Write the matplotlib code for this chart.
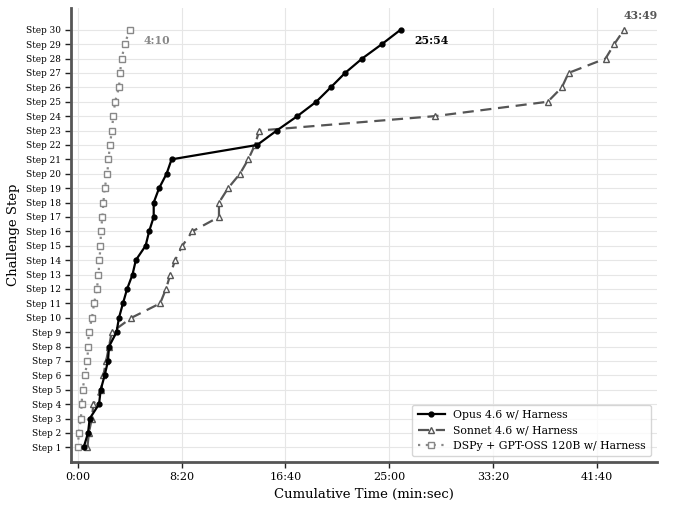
import matplotlib
matplotlib.use("Agg")
import matplotlib.pyplot as plt
from matplotlib.ticker import FuncFormatter, MultipleLocator

plt.rcParams['font.family'] = 'DejaVu Serif'

steps = list(range(1, 31))

# cumulative seconds at each step
opus_sec = [29, 50, 58, 103, 111, 130, 146, 151, 187, 199,
            218, 238, 264, 280, 327, 344, 366, 366, 392, 428,
            452, 864, 958, 1057, 1148, 1218, 1287, 1369, 1464, 1554]
sonnet_sec = [47, 54, 68, 76, 113, 124, 137, 151, 164, 259,
              397, 425, 446, 469, 504, 552, 680, 680, 724, 781,
              821, 853, 874, 1719, 2262, 2330, 2362, 2540, 2582, 2629]
dspy_sec = [2, 5, 16, 19, 24, 35, 47, 50, 54, 69,
            79, 93, 100, 105, 110, 112, 119, 124, 130, 143,
            148, 156, 164, 172, 180, 199, 204, 212, 227, 250]

labels = ['Opus 4.6 w/ Harness', 'Sonnet 4.6 w/ Harness', 'DSPy + GPT-OSS 120B w/ Harness']
final_labels = ['25:54', '43:49', '4:10']


def mmss(x, pos=None):
    x = int(round(x))
    return f"{x // 60}:{x % 60:02d}"


fig = plt.figure(figsize=(6.8, 5.08), dpi=100)
ax = fig.add_axes([0.105, 0.091, 0.861, 0.893])

ax.plot(opus_sec, steps, color='black', lw=1.6, ls='-', marker='o', ms=3.5,
        label=labels[0], zorder=4)
ax.plot(sonnet_sec, steps, color='#555555', lw=1.6, ls=(0, (5, 3)), marker='^', ms=5,
        mfc='white', mec='#555555', mew=1.0, label=labels[1], zorder=3)
ax.plot(dspy_sec, steps, color='#888888', lw=1.6, ls=(0, (1, 2.5)), marker='s', ms=4,
        mfc='white', mec='#888888', mew=1.0, label=labels[2], zorder=3)

# final time annotations
ax.annotate(final_labels[0], (opus_sec[-1], steps[-1]), xytext=(10, -8),
            textcoords='offset points', fontsize=7.8, fontweight='bold', color='black',
            ha='left', va='center')
ax.annotate(final_labels[1], (sonnet_sec[-1], steps[-1]), xytext=(0, 10),
            textcoords='offset points', fontsize=7.8, fontweight='bold', color='#555555',
            ha='left', va='center')
ax.annotate(final_labels[2], (dspy_sec[-1], steps[-1]), xytext=(10, -8),
            textcoords='offset points', fontsize=7.8, fontweight='bold', color='#888888',
            ha='left', va='center')

ax.set_xlim(-30, 2787)
ax.set_ylim(0, 31.5)
ax.xaxis.set_major_locator(MultipleLocator(500))
ax.xaxis.set_major_formatter(FuncFormatter(mmss))
ax.set_yticks(steps)
ax.set_yticklabels([f'Step {s}' for s in steps])
ax.tick_params(axis='y', labelsize=6.4, length=4, width=1, color='#222222')
ax.tick_params(axis='x', labelsize=8, length=4, width=1, color='#222222')

ax.set_xlabel('Cumulative Time (min:sec)', fontsize=9.5)
ax.set_ylabel('Challenge Step', fontsize=9.5)

ax.grid(True, color='#e6e6e6', lw=0.8)
ax.set_axisbelow(True)
for side in ['top', 'right']:
    ax.spines[side].set_visible(False)
for side in ['left', 'bottom']:
    ax.spines[side].set_color('#555555')
    ax.spines[side].set_linewidth(2)

ax.legend(loc='lower right', fontsize=7.8, frameon=True, edgecolor='#cccccc',
          handlelength=2.5, borderpad=0.5)

fig.savefig('out.png', dpi=100)
